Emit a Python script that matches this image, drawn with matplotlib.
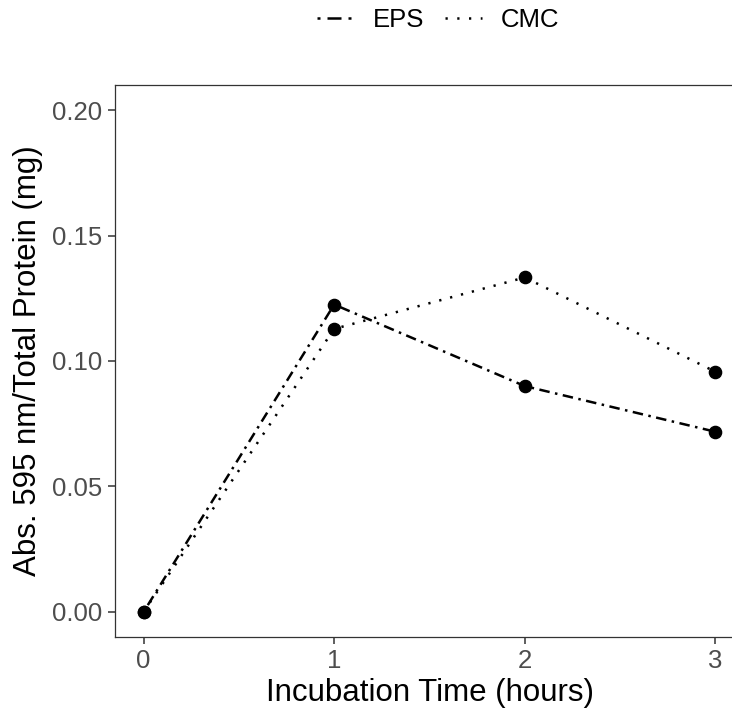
import numpy as np
import matplotlib.pyplot as plt
from matplotlib.lines import Line2D

plt.rcParams['font.family'] = ['Liberation Sans', 'DejaVu Sans']

hours = [0, 1, 2, 3]
eps = [0.0, 0.1225, 0.0900, 0.0718]
cmc = [0.0, 0.1128, 0.1333, 0.0957]

W, H = 732, 712
fig = plt.figure(figsize=(W / 100, H / 100), dpi=100)

# panel spans past the right edge like the reference
left, right, top, bottom = 115, 744, 85, 637
ax = fig.add_axes([left / W, 1 - bottom / H, (right - left) / W, (bottom - top) / H])

lw = 1.8
dotdash = (0, (1.0, 2.2, 4.2, 2.2))
dotted = (0, (0.9, 3.6))

ax.plot(hours, eps, color='black', lw=lw, linestyle=dotdash)
ax.plot(hours, cmc, color='black', lw=lw, linestyle=dotted)
ax.plot(hours, eps, 'o', color='black', ms=8.8)
ax.plot(hours, cmc, 'o', color='black', ms=8.8)

ax.set_xlim(-0.15, 3.15)
ax.set_ylim(-0.01, 0.21)
ax.set_xticks([0, 1, 2, 3])
ax.set_yticks([0.0, 0.05, 0.10, 0.15, 0.20])
ax.set_yticklabels(['0.00', '0.05', '0.10', '0.15', '0.20'])

for s in ax.spines.values():
    s.set_color('#333333')
    s.set_linewidth(0.9)
ax.tick_params(colors='#333333', labelcolor='#4D4D4D', labelsize=18.5,
               length=5, width=1.1, pad=4)

ax.set_xlabel('Incubation Time (hours)', fontsize=22.5, labelpad=3)
ax.set_ylabel('Abs. 595 nm/Total Protein (mg)', fontsize=22.5, labelpad=7)

handles = [Line2D([], [], color='black', lw=lw, linestyle=(0, (1.2, 2.8, 5.6, 2.8))),
           Line2D([], [], color='black', lw=lw, linestyle=(0, (0.9, 3.8)))]
fig.legend(handles, ['EPS', 'CMC'], loc='center', bbox_to_anchor=(438 / W, 1 - 20 / H),
           ncol=2, frameon=False, fontsize=18.5, handlelength=1.45,
           handletextpad=0.72, columnspacing=0.82)

fig.savefig('out.png', dpi=100)
